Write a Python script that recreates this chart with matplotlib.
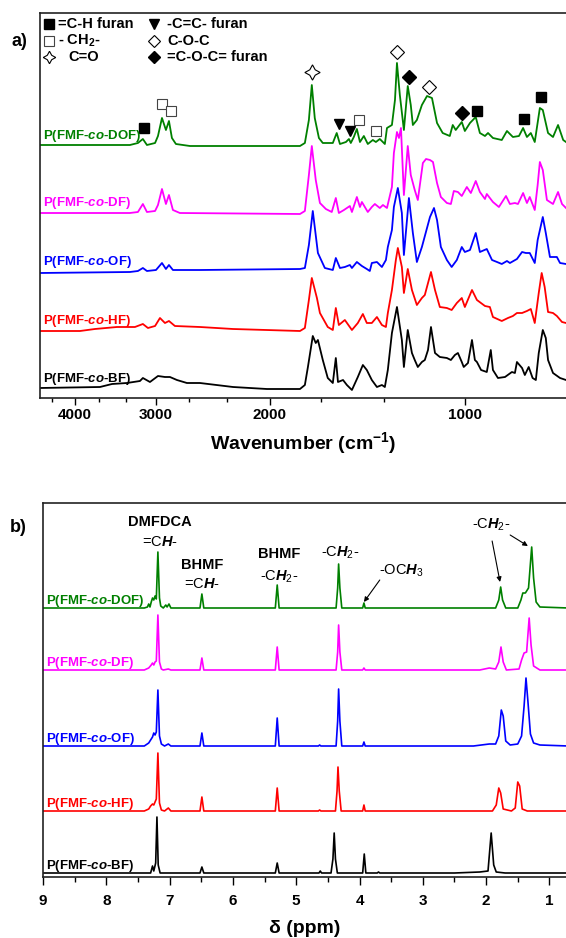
import matplotlib
matplotlib.use("Agg")
import matplotlib.pyplot as plt
from matplotlib.ticker import FixedLocator, NullFormatter

plt.rcParams['font.family'] = ['Liberation Sans', 'DejaVu Sans']
plt.rcParams['mathtext.fontset'] = 'custom'
plt.rcParams['mathtext.rm'] = 'Liberation Sans'
plt.rcParams['mathtext.it'] = 'Liberation Sans:italic:bold'
plt.rcParams['mathtext.bf'] = 'Liberation Sans:bold'
plt.rcParams['mathtext.default'] = 'regular'

# ---------------- data ----------------
series_names = ['BF', 'HF', 'OF', 'DF', 'DOF']
series_colors = ['#000000', '#ff0000', '#0000ff', '#ff00ff', '#008000']

# FTIR (wavenumber cm-1, absorbance a.u.)
ir_wn_dof = [4528, 3659, 3289, 3197, 3141, 3096, 3008, 2977, 2935, 2894,
             2863, 2833, 2793, 2657, 2000, 1797, 1766, 1741, 1723, 1705,
             1680, 1657, 1599, 1577, 1559, 1526, 1510, 1500, 1484, 1468,
             1452, 1432, 1412, 1387, 1372, 1353, 1329, 1319, 1296, 1282,
             1273, 1260, 1242, 1225, 1212, 1203, 1186, 1165, 1144, 1124,
             1104, 1082, 1055, 1044, 1033, 1011, 1000, 982, 962, 948,
             931, 921, 905, 877, 861, 843, 825, 813, 802, 791,
             780, 766, 758, 744, 731, 718, 705, 698]
ir_ab_dof = [1, 1, 1, 3, 7, 1, 3, 10, 28, 16,
             25, 8, 2, 0, 0, 0, 3, 26, 61, 28,
             8, 3, 3, 13, 2, 4, 7, 3, 9, 17,
             4, 10, 2, 6, 4, 7, 2, 18, 21, 46,
             83, 51, 16, 60, 41, 21, 26, 41, 50, 48,
             23, 13, 10, 21, 16, 24, 15, 23, 29, 13,
             10, 13, 8, 6, 15, 9, 10, 18, 9, 13,
             4, 38, 36, 13, 9, 21, 6, 4]

ir_wn_df = [4528, 3289, 3197, 3141, 3096, 3008, 2977, 2935, 2894, 2863,
            2823, 2754, 1797, 1766, 1741, 1723, 1699, 1674, 1639, 1605,
            1582, 1565, 1537, 1505, 1494, 1468, 1452, 1442, 1412, 1392,
            1377, 1353, 1338, 1319, 1296, 1287, 1273, 1264, 1255, 1242,
            1225, 1212, 1195, 1182, 1161, 1148, 1132, 1120, 1104, 1089,
            1066, 1051, 1040, 1025, 1011, 993, 979, 962, 948, 931,
            925, 905, 886, 864, 852, 837, 828, 813, 802, 794,
            780, 772, 766, 758, 747, 731, 718, 708, 698]
ir_ab_df = [0, 0, 1, 9, 1, 2, 8, 24, 9, 18,
            3, 0, -1, 2, 38, 67, 33, 10, 4, 1,
            15, 0, 3, 7, 1, 16, 6, 11, 1, 6,
            9, 5, 8, 5, 26, 60, 81, 75, 85, 18,
            67, 38, 23, 13, 50, 54, 53, 51, 30, 16,
            10, 9, 22, 21, 17, 26, 20, 32, 21, 14,
            19, 11, 6, 17, 9, 10, 9, 20, 10, 16,
            3, 28, 51, 43, 13, 9, 21, 9, 5]

ir_wn_of = [4528, 3289, 3197, 3141, 3096, 2998, 2935, 2894, 2863, 2823,
            2564, 1797, 1766, 1741, 1717, 1686, 1645, 1599, 1582, 1559,
            1532, 1505, 1494, 1468, 1442, 1417, 1402, 1392, 1367, 1343,
            1324, 1315, 1296, 1287, 1269, 1251, 1242, 1220, 1203, 1186,
            1165, 1144, 1132, 1116, 1104, 1089, 1066, 1048, 1029, 1011,
            1000, 982, 962, 948, 925, 908, 892, 877, 861, 852,
            831, 816, 805, 794, 780, 772, 758, 750, 739, 721,
            713, 698]
ir_ab_of = [-1, 0, 1, 4, 1, 2, 9, 3, 7, 2,
            2, 3, 4, 27, 61, 19, 4, 2, 14, 4,
            5, 7, 4, 10, 6, 3, 1, 9, 10, 5,
            12, 25, 42, 65, 84, 59, 17, 74, 39, 10,
            25, 44, 55, 64, 52, 25, 12, 5, 12, 25,
            20, 22, 39, 20, 23, 12, 10, 8, 11, 9,
            13, 20, 19, 19, 9, 32, 55, 39, 15, 15,
            9, 8]

ir_wn_hf = [4528, 3928, 3725, 3444, 3231, 3141, 3085, 3008, 2956, 2904,
            2863, 2803, 2564, 2280, 1797, 1766, 1741, 1723, 1692, 1674,
            1628, 1599, 1582, 1565, 1532, 1494, 1463, 1437, 1417, 1392,
            1367, 1343, 1324, 1315, 1296, 1278, 1269, 1251, 1242, 1225,
            1207, 1186, 1165, 1153, 1128, 1112, 1093, 1066, 1048, 1029,
            1011, 1000, 975, 958, 931, 915, 905, 877, 858, 843,
            831, 816, 802, 791, 780, 769, 761, 753, 744, 731,
            721, 708, 698]
ir_ab_hf = [0, 0, 2, 4, 4, 7, 3, 5, 13, 8,
            10, 5, 4, 2, 0, 3, 31, 53, 33, 18,
            4, 1, 23, 6, 11, 1, 8, 17, 8, 8,
            14, 6, 4, 18, 41, 71, 83, 64, 38, 62,
            41, 26, 33, 36, 59, 41, 24, 23, 21, 28,
            33, 24, 41, 31, 25, 24, 14, 10, 13, 15,
            18, 18, 20, 22, 8, 38, 58, 44, 19, 18,
            15, 9, 8]

ir_wn_bf = [4528, 3659, 3505, 3324, 3174, 3141, 3063, 2977, 2904, 2853,
            2783, 2686, 2564, 2280, 2021, 1797, 1766, 1747, 1717, 1699,
            1686, 1657, 1628, 1599, 1582, 1570, 1542, 1521, 1494, 1463,
            1437, 1417, 1392, 1367, 1343, 1329, 1315, 1296, 1273, 1251,
            1242, 1225, 1207, 1195, 1182, 1165, 1153, 1140, 1128, 1112,
            1093, 1066, 1051, 1036, 1025, 1011, 1004, 989, 975, 965,
            958, 944, 925, 912, 905, 889, 867, 846, 837, 831,
            816, 808, 797, 786, 777, 769, 758, 750, 744, 731,
            713, 698]
ir_ab_bf = [1, 2, 5, 6, 8, 11, 7, 13, 12, 12,
            9, 6, 6, 2, 0, 0, 4, 22, 53, 46,
            49, 29, 11, 6, 31, 7, 9, 4, -1, 12,
            24, 19, 9, 2, 4, 2, 19, 56, 82, 49,
            22, 59, 36, 29, 22, 27, 29, 39, 62, 36,
            32, 31, 29, 34, 36, 27, 22, 26, 49, 29,
            27, 19, 17, 39, 19, 11, 12, 17, 16, 27,
            21, 14, 22, 11, 9, 36, 59, 51, 29, 16,
            11, 9]

ir_wn = [ir_wn_bf, ir_wn_hf, ir_wn_of, ir_wn_df, ir_wn_dof]
ir_ab = [ir_ab_bf, ir_ab_hf, ir_ab_of, ir_ab_df, ir_ab_dof]
ir_offsets = [9, 67, 126, 185, 252]

# FTIR band markers (wavenumber, height on the stacked scale)
mk_ch_furan_wn = [3130, 958, 810, 763]
mk_ch_furan_y = [270, 287, 279, 301]
mk_ch2_wn = [2935, 2843, 1457, 1372]
mk_ch2_y = [294, 287, 278, 267]
mk_co_wn = [1723]
mk_co_y = [326]
mk_cc_wn = [1565, 1505]
mk_cc_y = [274, 267]
mk_coc_wn = [1273, 1136]
mk_coc_y = [346, 311]
mk_cocf_wn = [1220, 1011]
mk_cocf_y = [321, 285]

ir_ticks = [4000, 3000, 2000, 1000]
ir_ticklabels = ['4000', '3000', '2000', '1000']
ir_minor = [4333, 3667, 3333, 2667, 2333, 1667, 1333]

# 1H NMR (ppm, intensity a.u.)
nmr_d_dof = [9.0, 7.40, 7.35, 7.33, 7.31, 7.29, 7.27, 7.25, 7.23, 7.21,
             7.185, 7.16, 7.14, 7.10, 7.06, 7.04, 7.01, 6.98, 6.52, 6.49,
             6.46, 5.33, 5.30, 5.27, 4.37, 4.345, 4.33, 4.31, 4.28, 3.95,
             3.93, 3.91, 1.85, 1.80, 1.77, 1.74, 1.69, 1.50, 1.45, 1.42,
             1.38, 1.33, 1.28, 1.25, 1.21, 1.15, 0.7]
nmr_i_dof = [0, 0, 1, 4, 1, 6, 10, 8, 12, 9,
             56, 10, 2, 0, 3, 1, 4, 0, 0, 14,
             0, 0, 23, 0, 0, 20, 44, 20, 0, 0,
             5, 0, 0, 8, 21, 8, 0, 0, 8, 15,
             15, 20, 61, 30, 6, 1, 0]

nmr_d_df = [9.0, 7.40, 7.33, 7.29, 7.27, 7.25, 7.23, 7.21, 7.185, 7.16,
            7.13, 7.10, 7.02, 6.98, 6.52, 6.49, 6.46, 5.33, 5.30, 5.27,
            4.37, 4.345, 4.33, 4.31, 4.28, 3.95, 3.93, 3.91, 2.10, 1.95,
            1.85, 1.80, 1.765, 1.73, 1.68, 1.48, 1.44, 1.40, 1.36, 1.32,
            1.29, 1.25, 1.15, 0.7]
nmr_i_df = [0, 0, 2, 5, 7, 5, 8, 9, 55, 8,
            1, 0, 1, 0, 0, 12, 0, 0, 23, 0,
            0, 18, 45, 18, 0, 0, 2, 0, 0, 2,
            1, 8, 23, 8, 0, 1, 10, 17, 18, 52,
            25, 4, 0, 0]

nmr_d_of = [9.0, 7.40, 7.33, 7.30, 7.27, 7.25, 7.23, 7.21, 7.185, 7.16,
            7.13, 7.08, 7.02, 6.98, 6.52, 6.49, 6.46, 5.33, 5.30, 5.27,
            4.65, 4.63, 4.61, 4.37, 4.345, 4.33, 4.31, 4.28, 3.95, 3.93,
            3.91, 2.20, 1.95, 1.85, 1.80, 1.76, 1.73, 1.69, 1.62, 1.50,
            1.44, 1.40, 1.37, 1.34, 1.30, 1.25, 1.15, 0.7]
nmr_i_of = [0, 0, 3, 6, 9, 13, 11, 14, 56, 10,
            2, 0, 2, 0, 0, 13, 0, 0, 28, 0,
            0, 1, 0, 0, 25, 57, 25, 0, 0, 4,
            0, 0, 2, 2, 10, 36, 30, 5, 1, 2,
            10, 40, 68, 45, 12, 3, 1, 0]

nmr_d_hf = [9.0, 7.40, 7.33, 7.30, 7.27, 7.25, 7.23, 7.21, 7.185, 7.16,
            7.13, 7.08, 7.02, 6.98, 6.52, 6.49, 6.46, 5.33, 5.30, 5.27,
            4.65, 4.63, 4.61, 4.38, 4.355, 4.34, 4.32, 4.29, 3.95, 3.93,
            3.91, 1.90, 1.84, 1.80, 1.77, 1.73, 1.60, 1.54, 1.50, 1.47,
            1.43, 1.35, 0.7]
nmr_i_hf = [0, 0, 2, 5, 7, 6, 9, 12, 58, 8,
            1, 0, 3, 0, 0, 14, 0, 0, 23, 0,
            0, 1, 0, 0, 20, 44, 20, 0, 0, 6,
            0, 0, 6, 23, 18, 2, 0, 3, 29, 25,
            2, 0, 0]

nmr_d_bf = [9.0, 7.30, 7.27, 7.25, 7.22, 7.20, 7.18, 7.15, 6.52, 6.49,
            6.46, 5.33, 5.30, 5.27, 4.64, 4.62, 4.60, 4.45, 4.42, 4.40,
            4.38, 4.35, 3.95, 3.925, 3.90, 3.72, 3.70, 3.68, 2.50, 2.10,
            1.97, 1.92, 1.88, 1.84, 1.70, 0.7]
nmr_i_bf = [0, 0, 7, 2, 10, 56, 8, 0, 0, 6,
            0, 0, 10, 0, 0, 2, 0, 0, 14, 40,
            14, 0, 0, 19, 0, 0, 1, 0, 0, 1,
            2, 40, 8, 1, 0, 0]

nmr_d = [nmr_d_bf, nmr_d_hf, nmr_d_of, nmr_d_df, nmr_d_dof]
nmr_i = [nmr_i_bf, nmr_i_hf, nmr_i_of, nmr_i_df, nmr_i_dof]
nmr_offsets = [4, 66, 131, 207, 269]

nmr_ticks = [9, 8, 7, 6, 5, 4, 3, 2, 1]
nmr_minor = [8.5, 7.5, 6.5, 5.5, 4.5, 3.5, 2.5, 1.5]

# ---------------- figure ----------------
W, H = 566, 938
fig = plt.figure(figsize=(W / 100, H / 100), dpi=100)

def style_axes(ax):
    for s in ['left', 'top', 'bottom']:
        ax.spines[s].set_linewidth(1.2)
        ax.spines[s].set_color('#222222')
    ax.spines['right'].set_visible(False)
    ax.set_yticks([])

# ---- panel a: FTIR ----
ax1 = fig.add_axes([40 / W, 1 - 398 / H, (W - 40) / W, (398 - 13) / H])
ax1.set_xscale('log')
ax1.set_xlim(4528, 698)
ax1.set_ylim(0, 385)
style_axes(ax1)

for name, col, wn, ab, off in zip(series_names, series_colors, ir_wn, ir_ab, ir_offsets):
    ax1.plot(wn, [v + off for v in ab], color=col, lw=1.3, solid_joinstyle='round')
    ax1.text(4480, off + 10, 'P(FMF-$\\mathit{co}$-' + name + ')', color=col,
             fontsize=9.5, fontweight='bold', ha='left', va='center')

ax1.set_xticks(ir_ticks)
ax1.set_xticklabels(ir_ticklabels, fontsize=11, fontweight='bold')
ax1.xaxis.set_minor_locator(FixedLocator(ir_minor))
ax1.xaxis.set_minor_formatter(NullFormatter())
ax1.tick_params(axis='x', which='major', direction='out', length=5, width=1, pad=2.5)
ax1.tick_params(axis='x', which='minor', direction='out', length=3, width=1)

mk = dict(linestyle='none', clip_on=False)
ax1.plot(mk_ch_furan_wn, mk_ch_furan_y, marker='s', ms=6.5, mfc='k', mec='k', **mk)
ax1.plot(mk_ch2_wn, mk_ch2_y, marker='s', ms=6.5, mfc='white', mec='#444444', mew=0.8, **mk)
ax1.plot(mk_co_wn, mk_co_y, marker=(4, 1, 0), ms=11, mfc='white', mec='k', mew=0.8, **mk)
ax1.plot(mk_cc_wn, mk_cc_y, marker='v', ms=7, mfc='k', mec='k', **mk)
ax1.plot(mk_coc_wn, mk_coc_y, marker='D', ms=7, mfc='white', mec='k', mew=0.8, **mk)
ax1.plot(mk_cocf_wn, mk_cocf_y, marker='D', ms=7, mfc='k', mec='k', **mk)

# legend block (axes fraction)
lg = dict(transform=ax1.transAxes, linestyle='none', clip_on=False)
lt = dict(transform=ax1.transAxes, fontsize=10.5, fontweight='bold', ha='left', va='center')
r1, r2, r3 = 0.9714, 0.9273, 0.8857
c1m, c1t, c2m, c2t = 0.0171, 0.0342, 0.2167, 0.2414
ax1.plot([c1m], [r1], marker='s', ms=6.5, mfc='k', mec='k', **lg)
ax1.text(c1t, r1, '=C-H furan', **lt)
ax1.plot([c1m], [r2], marker='s', ms=6.5, mfc='white', mec='#444444', mew=0.8, **lg)
ax1.text(c1t, r2, '- CH$_2$-', **lt)
ax1.plot([c1m], [r3], marker=(4, 1, 0), ms=9, mfc='white', mec='k', mew=0.8, **lg)
ax1.text(0.0532, r3, 'C=O', **lt)
ax1.plot([c2m], [r1], marker='v', ms=7, mfc='k', mec='k', **lg)
ax1.text(c2t, r1, '-C=C- furan', **lt)
ax1.plot([c2m], [r2], marker='D', ms=6, mfc='white', mec='k', mew=0.8, **lg)
ax1.text(c2t, r2, 'C-O-C', **lt)
ax1.plot([c2m], [r3], marker='D', ms=6, mfc='k', mec='k', **lg)
ax1.text(c2t, r3, '=C-O-C= furan', **lt)

fig.text(303 / W, 1 - 443 / H, 'Wavenumber (cm$^{-1}$)', fontsize=14,
         fontweight='bold', ha='center', va='center')
fig.text(19 / W, 1 - 42 / H, 'a)', fontsize=13, fontweight='bold', ha='center', va='center')

# ---- panel b: 1H NMR ----
ax2 = fig.add_axes([43 / W, 1 - 877 / H, (W - 43) / W, (877 - 503) / H])
ax2.set_xlim(9, 0.738)
ax2.set_ylim(0, 374)
style_axes(ax2)

for name, col, d, it, off in zip(series_names, series_colors, nmr_d, nmr_i, nmr_offsets):
    ax2.plot(d, [v + off for v in it], color=col, lw=1.2, solid_joinstyle='round')
    ax2.text(8.95, off + 7, 'P(FMF-$\\mathit{co}$-' + name + ')', color=col,
             fontsize=9.5, fontweight='bold', ha='left', va='center')

ax2.set_xticks(nmr_ticks)
ax2.set_xticklabels([str(t) for t in nmr_ticks], fontsize=11, fontweight='bold')
ax2.xaxis.set_minor_locator(FixedLocator(nmr_minor))
ax2.tick_params(axis='x', which='major', direction='out', length=6, width=1, pad=6)
ax2.tick_params(axis='x', which='minor', direction='out', length=3.5, width=1)

at = dict(fontsize=10.5, ha='center', va='center')
ax2.text(7.15, 355, 'DMFDCA', fontweight='bold', **at)
ax2.text(7.15, 335, '=C$\\mathit{H}$-', **at)
ax2.text(6.49, 312, 'BHMF', fontweight='bold', **at)
ax2.text(6.49, 293, '=C$\\mathit{H}$-', **at)
ax2.text(5.27, 323, 'BHMF', fontweight='bold', **at)
ax2.text(5.27, 300, '-C$\\mathit{H}_2$-', **at)
ax2.text(4.31, 324, '-C$\\mathit{H}_2$-', **at)
ax2.text(3.34, 306, '-OC$\\mathit{H}_3$', **at)
ax2.text(1.92, 352, '-C$\\mathit{H}_2$-', **at)

ap = dict(arrowstyle='-|>', color='k', lw=0.8, mutation_scale=7, shrinkA=0, shrinkB=0)
ax2.annotate('', xy=(3.93, 275), xytext=(3.68, 297), arrowprops=ap)
ax2.annotate('', xy=(1.78, 295), xytext=(1.905, 336), arrowprops=ap)
ax2.annotate('', xy=(1.34, 331), xytext=(1.62, 342), arrowprops=ap)

fig.text(305 / W, 1 - 928 / H, 'δ (ppm)', fontsize=14, fontweight='bold',
         ha='center', va='center')
fig.text(18 / W, 1 - 527 / H, 'b)', fontsize=13, fontweight='bold', ha='center', va='center')

fig.savefig('out.png', dpi=100)
